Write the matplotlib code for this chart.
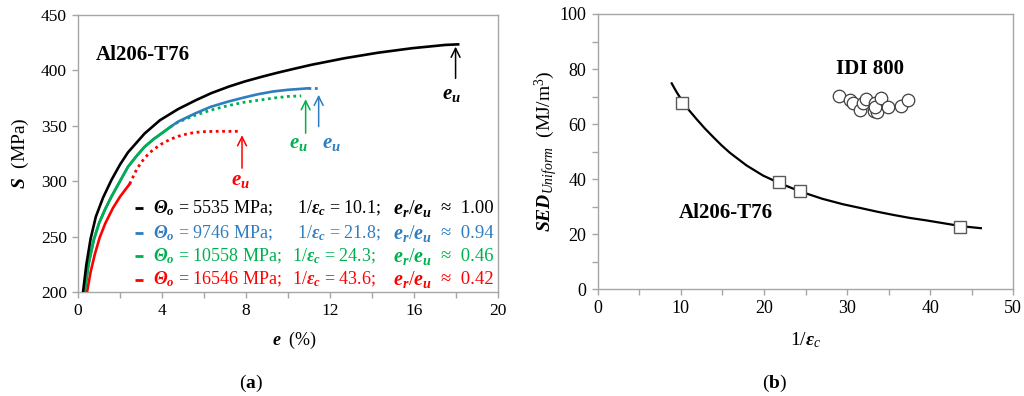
import matplotlib
matplotlib.use('Agg')
import matplotlib.pyplot as plt
from matplotlib.ticker import MultipleLocator

plt.rcParams['font.family'] = ['Liberation Serif', 'DejaVu Serif']
plt.rcParams['mathtext.fontset'] = 'custom'
plt.rcParams['mathtext.rm'] = 'Liberation Serif'
plt.rcParams['mathtext.it'] = 'Liberation Serif:italic'
plt.rcParams['mathtext.bf'] = 'Liberation Serif:bold'
plt.rcParams['mathtext.bfit'] = 'Liberation Serif:italic:bold'

# ---------------- Panel (a) data: engineering stress-strain curves ----------------
black_e = [0.24, 0.4, 0.6, 0.85, 1.19, 1.59, 2.0, 2.38, 3.17, 3.9, 4.76, 5.6, 6.35,
           7.2, 7.94, 8.8, 9.52, 10.3, 11.1, 12.7, 14.3, 15.9, 17.5, 18.1]
black_S = [200, 225, 248, 268, 285, 301, 315, 326, 343, 355, 365, 373, 379.5,
           385.5, 390, 394.5, 398, 401.5, 405, 411, 416, 420, 423, 423.5]

blue_e = [0.32, 0.5, 0.75, 1.0, 1.3, 1.59, 2.0, 2.38, 2.8, 3.17, 3.6, 3.97, 4.4, 4.76,
          5.56, 6.3, 7.14, 7.9, 8.57, 9.3, 10.0, 10.95]
blue_S = [200, 225, 247, 262, 275, 286, 300, 313, 323, 331, 338, 343, 349, 353.7,
          361, 367, 371.8, 375.5, 378.5, 381, 382.5, 383.8]
blue_dot_e = [10.95, 11.5]
blue_dot_S = [383.8, 383.8]

green_e = [0.32, 0.5, 0.75, 1.0, 1.3, 1.59, 2.0, 2.38, 2.8, 3.17, 3.6, 3.97, 4.4]
green_S = [200, 225, 247, 262, 275, 286, 300, 313, 323, 331, 338, 343, 349]
green_dot_e = [4.4, 4.76, 5.5, 6.3, 7.1, 7.9, 8.57, 9.3, 10.0, 10.63]
green_dot_S = [349, 353.2, 359.0, 364.0, 368.0, 371.2, 373.0, 375.0, 376.5, 377.0]

red_e = [0.43, 0.6, 0.8, 1.03, 1.3, 1.67, 2.0, 2.46]
red_S = [200, 218, 234, 249, 262, 276, 286, 297.5]
red_dot_e = [2.46, 2.8, 3.17, 3.55, 3.97, 4.36, 4.76, 5.16, 5.56, 6.0, 6.5, 7.0, 7.62]
red_dot_S = [297.5, 311, 321, 328, 333.5, 337.5, 340.5, 342.5, 344, 344.7, 345, 345, 345]

# uniform elongation markers (e_u) : arrow x, tip, tail
eu_x = [17.98, 11.46, 10.84, 7.81]
eu_tip = [421.4, 378.0, 374.0, 341.5]
eu_tail = [392.8, 349.3, 343.3, 311.8]

# legend values
theta_o = [5535, 9746, 10558, 16546]
inv_ec = [10.1, 21.8, 24.3, 43.6]
er_eu = [1.00, 0.94, 0.46, 0.42]

# ---------------- Panel (b) data ----------------
sed_al = [67.6, 39.1, 35.7, 22.8]          # squares at inv_ec
fit_x = [8.9, 9.5, 10.2, 11.0, 11.9, 12.9, 13.9, 14.9, 15.9, 17.9, 19.9, 21.85, 24.4,
         27.0, 29.5, 31.5, 33.6, 35.6, 37.6, 39.6, 41.6, 43.8, 46.1]
fit_y = [74.8, 71.6, 68.3, 65.0, 61.8, 58.4, 55.3, 52.3, 49.6, 45.0, 41.3, 38.6, 35.5,
         32.9, 30.9, 29.6, 28.2, 27.0, 25.9, 25.0, 24.0, 22.9, 22.2]
idi_x = [29.05, 30.4, 30.7, 31.5, 31.95, 32.3, 33.2, 33.4, 33.6, 33.4, 34.05, 34.97, 36.45, 37.35]
idi_y = [70.2, 68.8, 67.8, 65.1, 67.5, 69.0, 64.9, 67.5, 64.5, 66.2, 69.4, 66.4, 66.6, 68.8]

BLACK = '#000000'
BLUE = '#2E7DC0'
GREEN = '#00B050'
RED = '#FF0000'
SPINE = '#A6A6A6'
colors = [BLACK, BLUE, GREEN, RED]

fig = plt.figure(figsize=(10.24, 3.96), dpi=100)

# ================= Panel (a) =================
ax = fig.add_axes([78 / 1024, 1 - 292 / 396, 420 / 1024, 277 / 396])
lw = 1.9
dot = (0, (1, 1.3))
ax.plot(black_e, black_S, color=BLACK, lw=lw, zorder=5)
ax.plot(green_dot_e, green_dot_S, color=GREEN, lw=2.0, ls=dot, zorder=3)
ax.plot(blue_e, blue_S, color=BLUE, lw=lw, zorder=4)
ax.plot(blue_dot_e, blue_dot_S, color=BLUE, lw=2.0, ls=dot, zorder=4)
ax.plot(green_e, green_S, color=GREEN, lw=lw, zorder=4.5)
ax.plot(red_e, red_S, color=RED, lw=lw, zorder=4)
ax.plot(red_dot_e, red_dot_S, color=RED, lw=2.0, ls=dot, zorder=3)

eu_label = r'$\mathbfit{e}_{\mathbfit{u}}$'
label_pos = [(17.8, 378), (12.06, 334), (10.5, 334), (7.73, 301)]
for x, tip, tail, c, (lx, ly) in zip(eu_x, eu_tip, eu_tail, colors, label_pos):
    ax.annotate('', xy=(x, tip), xytext=(x, tail),
                arrowprops=dict(arrowstyle='->', color=c, lw=1.1, mutation_scale=16,
                                shrinkA=0, shrinkB=0))
    ax.text(lx, ly, eu_label, color=c, fontsize=15, ha='center', va='center')

ax.text(0.87, 414, 'Al206-T76', fontsize=15, fontweight='bold', ha='left', va='center')

# legend-like block
row_y = [275.7, 253.2, 232.2, 211.1]
col2_x = [10.41, 10.41, 10.2, 10.2]
for i in range(4):
    c = colors[i]
    ax.plot([2.72, 3.1], [row_y[i], row_y[i]], color=c, lw=2.0, solid_capstyle='butt')
    ax.text(3.57, row_y[i], r'$\mathbfit{\Theta}_{\mathbfit{o}}$' + f' = {theta_o[i]} MPa;',
            color=c, fontsize=13, ha='left', va='center')
    ax.text(col2_x[i], row_y[i], r'1/$\mathbfit{\varepsilon}_{\mathbfit{c}}$' + f' = {inv_ec[i]:.1f};',
            color=c, fontsize=13, ha='left', va='center')
    ax.text(15.01, row_y[i], r'$\mathbfit{e}_{\mathbfit{r}}$/$\mathbfit{e}_{\mathbfit{u}}$',
            color=c, fontsize=14.5, ha='left', va='center')
    ax.text(17.3, row_y[i], f'\u2248  {er_eu[i]:.2f}', color=c, fontsize=13.5,
            ha='left', va='center')

ax.set_xlim(0, 20)
ax.set_ylim(200, 450)
ax.xaxis.set_major_locator(MultipleLocator(4))
ax.xaxis.set_minor_locator(MultipleLocator(2))
ax.yaxis.set_major_locator(MultipleLocator(50))
ax.tick_params(which='both', direction='out', color=SPINE, length=4, width=1,
               labelsize=12.5, pad=4)
for s in ax.spines.values():
    s.set_color(SPINE)
    s.set_linewidth(1.0)

fig.text(295 / 1024, 1 - 340 / 396, r'$\mathbfit{e}$  (%)', fontsize=13, ha='center', va='center')
fig.text(20 / 1024, 1 - 153 / 396, r'$\mathbfit{S}$  (MPa)', fontsize=14, ha='center', va='center',
         rotation=90)
fig.text(251 / 1024, 1 - 383 / 396, r'($\mathbf{a}$)', fontsize=14, ha='center', va='center')

# ================= Panel (b) =================
bx = fig.add_axes([597.7 / 1024, 1 - 289.3 / 396, 415.6 / 1024, 275.3 / 396])
bx.plot(fit_x, fit_y, color=BLACK, lw=1.6, zorder=3)
bx.plot(inv_ec, sed_al, ls='none', marker='s', markersize=9, markerfacecolor='white',
        markeredgecolor='#595959', markeredgewidth=1.0, zorder=4)
bx.plot(idi_x, idi_y, ls='none', marker='o', markersize=9, markerfacecolor='white',
        markeredgecolor='#404040', markeredgewidth=0.9, zorder=4)
bx.text(28.7, 80.2, 'IDI 800', fontsize=15, fontweight='bold', ha='left', va='center')
bx.text(9.7, 27.8, 'Al206-T76', fontsize=15, fontweight='bold', ha='left', va='center')

bx.set_xlim(0, 50)
bx.set_ylim(0, 100)
bx.xaxis.set_major_locator(MultipleLocator(10))
bx.xaxis.set_minor_locator(MultipleLocator(5))
bx.yaxis.set_major_locator(MultipleLocator(20))
bx.yaxis.set_minor_locator(MultipleLocator(10))
bx.tick_params(which='both', direction='out', color=SPINE, length=4, width=1,
               labelsize=13, pad=4)
for s in bx.spines.values():
    s.set_color(SPINE)
    s.set_linewidth(1.0)

fig.text(806 / 1024, 1 - 340 / 396, r'1/$\mathbfit{\varepsilon}_{\mathit{c}}$', fontsize=14,
         ha='center', va='center')
fig.text(546 / 1024, 1 - 151 / 396,
         r'$\mathbfit{SED}_{\mathit{Uniform}}$  (MJ/m$^{3}$)', fontsize=14, ha='center',
         va='center', rotation=90)
fig.text(775 / 1024, 1 - 383 / 396, r'($\mathbf{b}$)', fontsize=14, ha='center', va='center')

fig.savefig('out.png', dpi=100)
